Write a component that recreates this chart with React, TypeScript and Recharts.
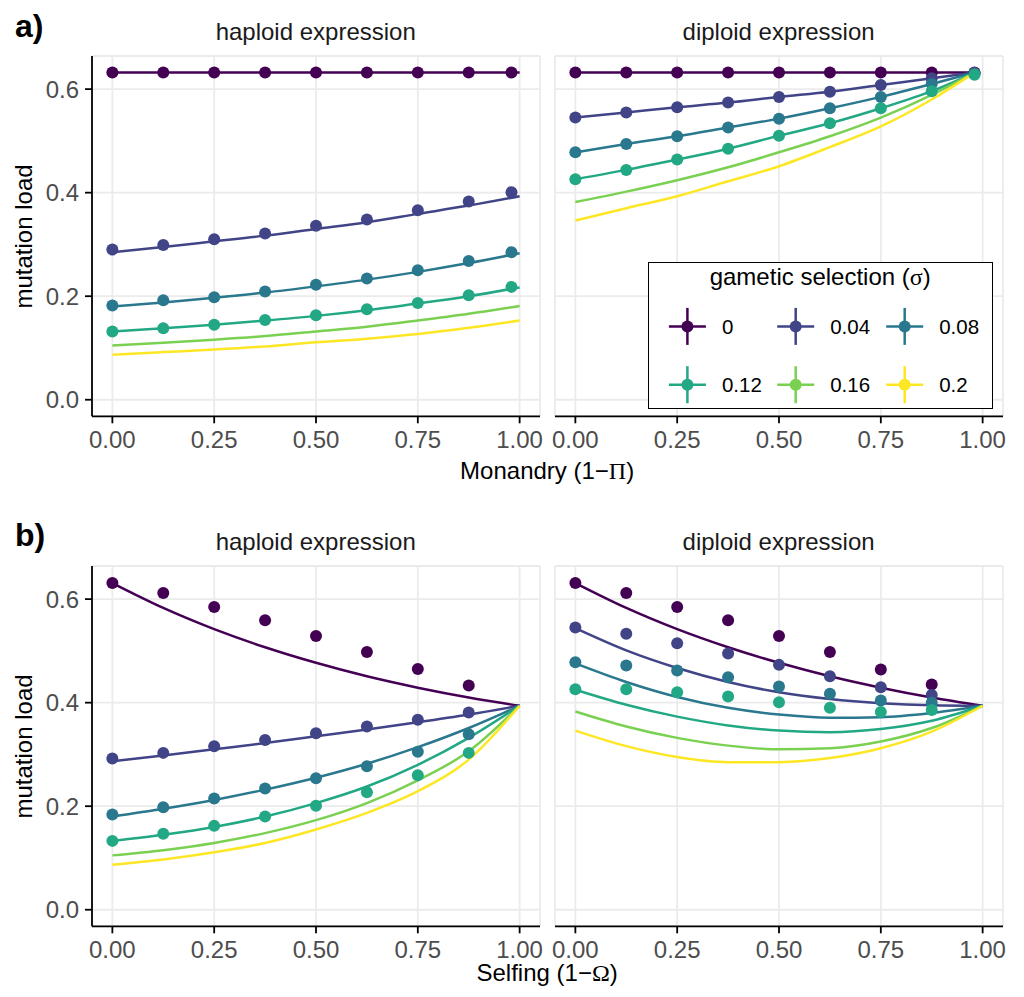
import React from 'react';
import {
  ComposedChart,
  Line,
  Scatter,
  XAxis,
  YAxis,
  CartesianGrid,
} from 'recharts';

const sigmaLabels = ['0', '0.04', '0.08', '0.12', '0.16', '0.2'];
const sigmaColors = ['#440154', '#414487', '#2A788E', '#22A884', '#7AD151', '#FDE725'];

const xTicks = [0, 0.25, 0.5, 0.75, 1];
const yTicks = [0, 0.2, 0.4, 0.6];

// x positions of the theory curves and of the simulation points
const curveX = [0, 0.125, 0.25, 0.375, 0.5, 0.625, 0.75, 0.875, 1];
const curveXMonandryDiploid = [0, 0.125, 0.25, 0.375, 0.5, 0.625, 0.75, 0.875, 0.98];
const simXMonandry = [0, 0.125, 0.25, 0.375, 0.5, 0.625, 0.75, 0.875, 0.98];
const simXSelfing = [0, 0.125, 0.25, 0.375, 0.5, 0.625, 0.75, 0.875];

// a) monandry, haploid expression
const monandryHaploidCurves = [
  [0.632, 0.632, 0.632, 0.632, 0.632, 0.632, 0.632, 0.632, 0.632],
  [0.285, 0.295, 0.306, 0.317, 0.33, 0.343, 0.359, 0.375, 0.393],
  [0.18, 0.188, 0.197, 0.207, 0.219, 0.232, 0.247, 0.264, 0.283],
  [0.132, 0.138, 0.145, 0.153, 0.162, 0.173, 0.186, 0.2, 0.217],
  [0.105, 0.11, 0.116, 0.123, 0.132, 0.141, 0.153, 0.166, 0.181],
  [0.087, 0.092, 0.097, 0.103, 0.111, 0.118, 0.127, 0.139, 0.153],
];
const monandryHaploidSims = [
  [0.632, 0.632, 0.632, 0.632, 0.632, 0.632, 0.632, 0.632, 0.632],
  [0.29, 0.299, 0.31, 0.321, 0.336, 0.348, 0.366, 0.383, 0.401],
  [0.182, 0.192, 0.198, 0.209, 0.222, 0.234, 0.25, 0.268, 0.285],
  [0.132, 0.138, 0.145, 0.154, 0.163, 0.175, 0.187, 0.202, 0.218],
];

// a) monandry, diploid expression
const monandryDiploidCurves = [
  [0.632, 0.632, 0.632, 0.632, 0.632, 0.632, 0.632, 0.632, 0.632],
  [0.545, 0.555, 0.565, 0.574, 0.585, 0.595, 0.608, 0.621, 0.632],
  [0.478, 0.494, 0.509, 0.526, 0.543, 0.563, 0.585, 0.61, 0.632],
  [0.426, 0.444, 0.464, 0.485, 0.51, 0.534, 0.563, 0.596, 0.632],
  [0.382, 0.402, 0.424, 0.449, 0.478, 0.509, 0.545, 0.589, 0.632],
  [0.346, 0.37, 0.393, 0.422, 0.451, 0.488, 0.528, 0.58, 0.632],
];
const monandryDiploidSims = [
  [0.632, 0.632, 0.632, 0.632, 0.632, 0.632, 0.632, 0.632, 0.632],
  [0.545, 0.555, 0.565, 0.574, 0.585, 0.595, 0.608, 0.621, 0.631],
  [0.478, 0.494, 0.509, 0.526, 0.543, 0.563, 0.585, 0.61, 0.63],
  [0.426, 0.444, 0.464, 0.485, 0.51, 0.534, 0.563, 0.596, 0.628],
];

// b) selfing, haploid expression
const selfingHaploidCurves = [
  [0.631, 0.583, 0.542, 0.507, 0.477, 0.451, 0.429, 0.41, 0.394],
  [0.287, 0.298, 0.31, 0.322, 0.335, 0.348, 0.362, 0.377, 0.394],
  [0.18, 0.195, 0.212, 0.232, 0.255, 0.282, 0.314, 0.351, 0.394],
  [0.133, 0.145, 0.16, 0.18, 0.206, 0.238, 0.28, 0.332, 0.394],
  [0.105, 0.115, 0.129, 0.148, 0.173, 0.206, 0.25, 0.306, 0.394],
  [0.087, 0.097, 0.111, 0.129, 0.155, 0.187, 0.229, 0.29, 0.394],
];
const selfingHaploidSims = [
  [0.631, 0.612, 0.585, 0.559, 0.529, 0.498, 0.465, 0.433],
  [0.292, 0.303, 0.316, 0.328, 0.341, 0.354, 0.367, 0.381],
  [0.184, 0.198, 0.215, 0.234, 0.254, 0.277, 0.305, 0.339],
  [0.133, 0.147, 0.162, 0.18, 0.201, 0.227, 0.26, 0.303],
];

// b) selfing, diploid expression
const selfingDiploidCurves = [
  [0.631, 0.583, 0.542, 0.507, 0.477, 0.451, 0.429, 0.41, 0.394],
  [0.544, 0.501, 0.467, 0.44, 0.42, 0.407, 0.399, 0.395, 0.394],
  [0.476, 0.44, 0.411, 0.39, 0.377, 0.371, 0.372, 0.38, 0.394],
  [0.425, 0.396, 0.373, 0.356, 0.346, 0.343, 0.349, 0.365, 0.394],
  [0.383, 0.354, 0.332, 0.317, 0.31, 0.312, 0.325, 0.351, 0.394],
  [0.346, 0.316, 0.295, 0.285, 0.285, 0.293, 0.312, 0.344, 0.394],
];
const selfingDiploidSims = [
  [0.631, 0.612, 0.585, 0.559, 0.529, 0.498, 0.464, 0.435],
  [0.545, 0.533, 0.515, 0.495, 0.473, 0.451, 0.43, 0.415],
  [0.478, 0.472, 0.462, 0.449, 0.431, 0.417, 0.404, 0.4],
  [0.426, 0.426, 0.42, 0.412, 0.401, 0.39, 0.382, 0.386],
];

const PLOT_W = 448;
const PLOT_H = 360.3;
const LEFT_PAD = 80;
const X_AXIS_H = 50;
const M_TOP = 6;
const M_RIGHT = 30;

const FONT = '"Liberation Sans", Arial, Helvetica, sans-serif';
const SYMBOL_FONT = '"Liberation Serif", "DejaVu Serif", serif';

const toPoints = (xs: number[], ys: number[]) => xs.map((x, i) => ({ x, y: ys[i] }));

const dotShape = (color: string) => (props: any) =>
  <circle cx={props.cx} cy={props.cy} r={6} fill={color} />;

const axisStroke = { stroke: '#000', strokeWidth: 1.8 };

function Panel({ left, top, showY, curveXs, curves, simXs, sims }: any) {
  return (
    <div style={{ position: 'absolute', left: left - LEFT_PAD, top: top - M_TOP }}>
      <ComposedChart
        width={LEFT_PAD + PLOT_W + M_RIGHT}
        height={M_TOP + PLOT_H + X_AXIS_H}
        margin={{ top: M_TOP, right: M_RIGHT, bottom: 0, left: showY ? 0 : LEFT_PAD }}
      >
        <CartesianGrid stroke="#EBEBEB" strokeWidth={1.8} />
        <XAxis
          type="number"
          dataKey="x"
          domain={[-0.05, 1.05]}
          ticks={xTicks}
          interval={0}
          allowDataOverflow
          tickFormatter={(v: number) => v.toFixed(2)}
          height={X_AXIS_H}
          tickSize={7}
          tickMargin={8}
          axisLine={axisStroke}
          tickLine={axisStroke}
          tick={{ fill: '#4D4D4D', fontSize: 24 }}
        />
        <YAxis
          type="number"
          dataKey="y"
          domain={[-0.032, 0.664]}
          ticks={yTicks}
          interval={0}
          allowDataOverflow
          hide={!showY}
          width={showY ? LEFT_PAD : 0}
          tickFormatter={(v: number) => v.toFixed(1)}
          tickSize={7}
          tickMargin={6}
          axisLine={axisStroke}
          tickLine={axisStroke}
          tick={{ fill: '#4D4D4D', fontSize: 24 }}
        />
        {curves.map((ys: number[], i: number) => (
          <Line
            key={'l' + i}
            data={toPoints(curveXs, ys)}
            dataKey="y"
            type="monotone"
            stroke={sigmaColors[i]}
            strokeWidth={2.5}
            dot={false}
            activeDot={false}
            isAnimationActive={false}
          />
        ))}
        {sims.map((ys: number[], i: number) => (
          <Scatter
            key={'s' + i}
            data={toPoints(simXs, ys)}
            dataKey="y"
            fill={sigmaColors[i]}
            shape={dotShape(sigmaColors[i])}
            isAnimationActive={false}
          />
        ))}
      </ComposedChart>
    </div>
  );
}

function SigmaLegend() {
  const cols = [39.4, 147.7, 256.7];
  const rows = [64.4, 122.7];
  return (
    <div
      style={{
        position: 'absolute',
        left: 648.3,
        top: 262.3,
        width: 345,
        height: 147,
        boxSizing: 'border-box',
        border: '1.6px solid #000',
        background: '#fff',
      }}
    >
      <svg width={345} height={147} style={{ position: 'absolute', left: -1.6, top: -1.6 }}>
        <text x={172.2} y={22.7} textAnchor="middle" fontSize={24} fill="#000">
          gametic selection (<tspan fontFamily={SYMBOL_FONT}>σ</tspan>)
        </text>
        {sigmaLabels.map((lab, i) => {
          const cx = cols[i % 3];
          const cy = rows[Math.floor(i / 3)];
          const c = sigmaColors[i];
          return (
            <g key={lab}>
              <line x1={cx - 18.5} x2={cx + 18.5} y1={cy} y2={cy} stroke={c} strokeWidth={2.5} />
              <line x1={cx} x2={cx} y1={cy - 18.5} y2={cy + 18.5} stroke={c} strokeWidth={2.5} />
              <circle cx={cx} cy={cy} r={6} fill={c} />
              <text x={cx + 34.5} y={cy} dominantBaseline="central" fontSize={20.5} fill="#000">
                {lab}
              </text>
            </g>
          );
        })}
      </svg>
    </div>
  );
}

export default function App() {
  const leftX = 91.7;
  const rightX = 554.6;
  const topA = 56.3;
  const topB = 566.3;
  const midX = (leftX + rightX + PLOT_W) / 2;
  return (
    <div
      style={{
        position: 'absolute',
        left: 0,
        top: 0,
        width: 1024,
        height: 997,
        background: '#fff',
        overflow: 'hidden',
        fontFamily: FONT,
      }}
    >
      <svg width={1024} height={997} style={{ position: 'absolute', left: 0, top: 0 }}>
        <text x={15} y={37} fontSize={32} fontWeight="bold" fill="#000">a)</text>
        <text x={15} y={546} fontSize={32} fontWeight="bold" fill="#000">b)</text>
        <text x={leftX + PLOT_W / 2} y={40} textAnchor="middle" fontSize={24} fill="#1A1A1A">haploid expression</text>
        <text x={rightX + PLOT_W / 2} y={40} textAnchor="middle" fontSize={24} fill="#1A1A1A">diploid expression</text>
        <text x={leftX + PLOT_W / 2} y={550} textAnchor="middle" fontSize={24} fill="#1A1A1A">haploid expression</text>
        <text x={rightX + PLOT_W / 2} y={550} textAnchor="middle" fontSize={24} fill="#1A1A1A">diploid expression</text>
        <text x={midX} y={479} textAnchor="middle" fontSize={24} fill="#000">
          Monandry (1−<tspan fontFamily={SYMBOL_FONT}>Π</tspan>)
        </text>
        <text x={midX} y={981} textAnchor="middle" fontSize={24} fill="#000">
          Selfing (1−<tspan fontFamily={SYMBOL_FONT}>Ω</tspan>)
        </text>
        <text
          transform={`translate(32, ${topA + PLOT_H / 2}) rotate(-90)`}
          textAnchor="middle"
          fontSize={24}
          fill="#000"
        >
          mutation load
        </text>
        <text
          transform={`translate(32, ${topB + PLOT_H / 2}) rotate(-90)`}
          textAnchor="middle"
          fontSize={24}
          fill="#000"
        >
          mutation load
        </text>
      </svg>
      <Panel left={leftX} top={topA} showY curveXs={curveX} curves={monandryHaploidCurves} simXs={simXMonandry} sims={monandryHaploidSims} />
      <Panel left={rightX} top={topA} showY={false} curveXs={curveXMonandryDiploid} curves={monandryDiploidCurves} simXs={simXMonandry} sims={monandryDiploidSims} />
      <Panel left={leftX} top={topB} showY curveXs={curveX} curves={selfingHaploidCurves} simXs={simXSelfing} sims={selfingHaploidSims} />
      <Panel left={rightX} top={topB} showY={false} curveXs={curveX} curves={selfingDiploidCurves} simXs={simXSelfing} sims={selfingDiploidSims} />
      <SigmaLegend />
    </div>
  );
}
